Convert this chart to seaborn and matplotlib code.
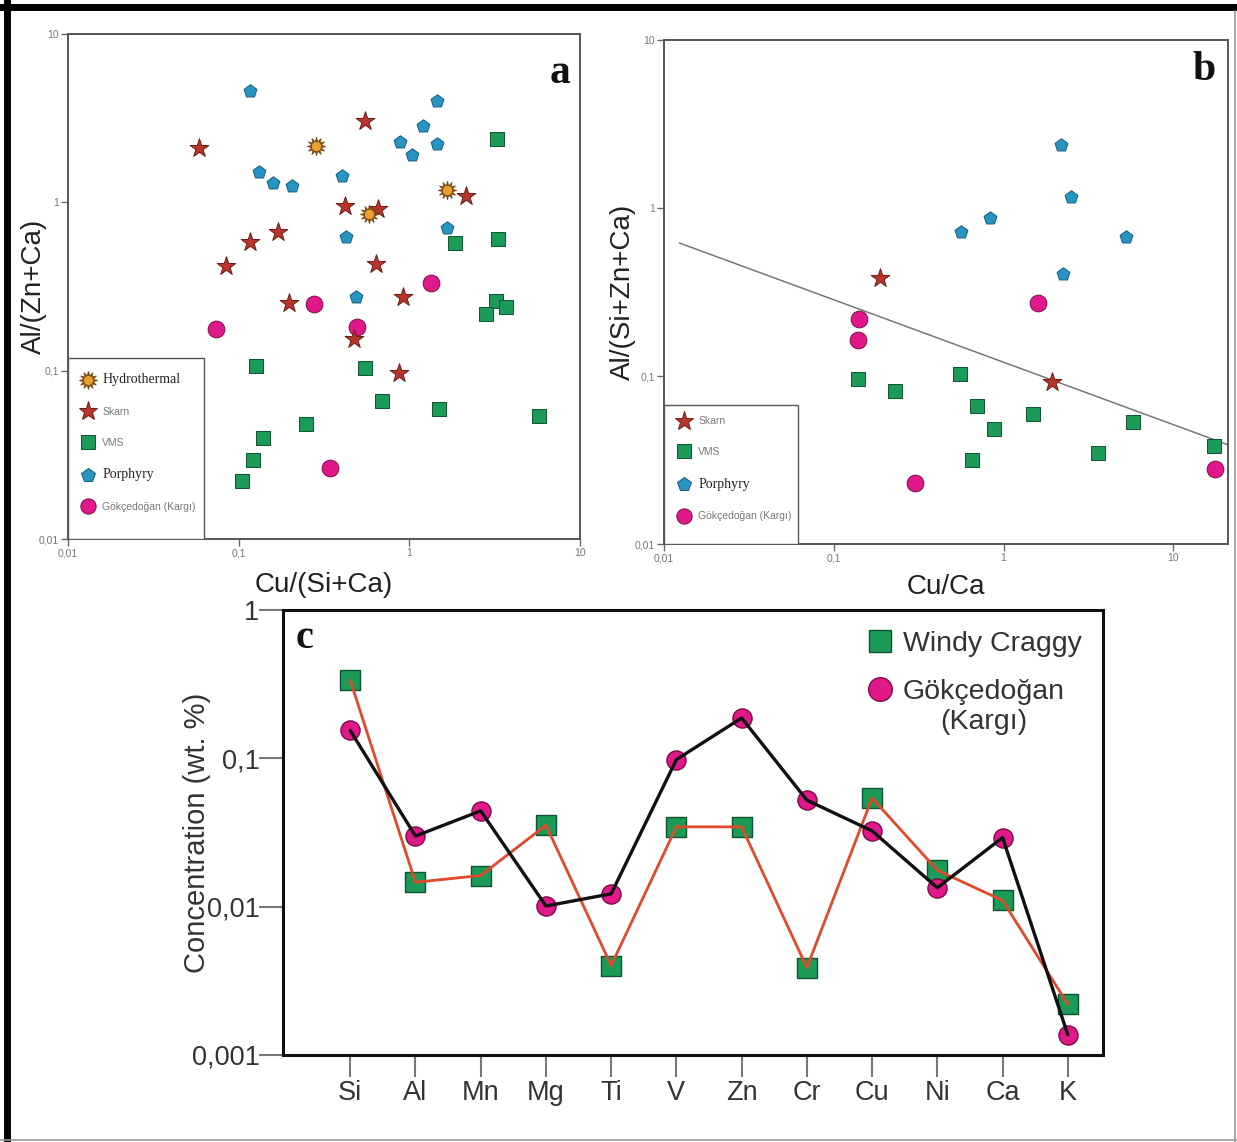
import numpy as np
import pandas as pd
import matplotlib
matplotlib.use("Agg")
import matplotlib.pyplot as plt
import seaborn as sns
from matplotlib.lines import Line2D
from matplotlib.patches import Rectangle

sns.set_theme(style="white")
plt.rcParams["font.family"] = ["Liberation Sans", "DejaVu Sans"]

# -----------------------------
# Panel a : Al/(Zn+Ca) vs Cu/(Si+Ca)
# -----------------------------
a_hydro_x = [0.282, 1.67, 0.580]
a_hydro_y = [2.16, 1.19, 0.855]

a_skarn_x = [0.0586, 0.549, 0.417, 0.651, 2.15, 0.170, 0.117, 0.0838, 0.635, 0.198, 0.914, 0.471, 0.871]
a_skarn_y = [2.10, 3.03, 0.949, 0.910, 1.09, 0.671, 0.582, 0.419, 0.433, 0.254, 0.275, 0.155, 0.0964]

a_vms_x = [3.26, 3.29, 1.84, 3.20, 2.81, 3.66, 0.127, 0.549, 0.692, 1.50, 5.77, 0.248, 0.139, 0.122, 0.104]
a_vms_y = [2.38, 0.608, 0.574, 0.261, 0.218, 0.239, 0.106, 0.104, 0.066, 0.0595, 0.0536, 0.0482, 0.0397, 0.0293, 0.0220]

a_por_x = [0.117, 1.45, 1.21, 0.885, 1.45, 1.04, 0.132, 0.158, 0.206, 0.401, 1.67, 0.427, 0.486]
a_por_y = [4.58, 4.02, 2.86, 2.28, 2.22, 1.91, 1.51, 1.31, 1.25, 1.43, 0.708, 0.624, 0.275]

a_gok_x = [0.0738, 0.275, 0.494, 1.34, 0.345]
a_gok_y = [0.177, 0.248, 0.181, 0.330, 0.0264]

# -----------------------------
# Panel b : Al/(Si+Zn+Ca) vs Cu/Ca
# -----------------------------
b_skarn_x = [0.188, 1.94]
b_skarn_y = [0.383, 0.0925]

b_vms_x = [0.139, 0.228, 0.551, 0.695, 0.873, 0.652, 1.50, 5.78, 3.61, 17.4]
b_vms_y = [0.0964, 0.0818, 0.103, 0.066, 0.0482, 0.0316, 0.0595, 0.0533, 0.035, 0.0381]

b_por_x = [2.18, 2.51, 0.835, 0.560, 5.27, 2.23]
b_por_y = [2.37, 1.16, 0.877, 0.718, 0.671, 0.406]

b_gok_x = [0.141, 0.138, 1.59, 0.299, 17.6]
b_gok_y = [0.220, 0.164, 0.271, 0.0230, 0.0278]

b_line_x = [0.0123, 21.0]
b_line_y = [0.62, 0.039]

# -----------------------------
# Panel c : element concentrations
# -----------------------------
elements = ["Si", "Al", "Mn", "Mg", "Ti", "V", "Zn", "Cr", "Cu", "Ni", "Ca", "K"]
windy = [0.336, 0.0146, 0.0162, 0.0354, 0.00401, 0.0345, 0.0345, 0.00388, 0.0539, 0.0176, 0.0110, 0.0022]
gokce = [0.154, 0.0299, 0.0442, 0.0101, 0.0122, 0.098, 0.187, 0.0522, 0.0324, 0.0134, 0.0292, 0.00137]

log_ticks = [0.01, 0.1, 1, 10]
log_labels = ["0,01", "0,1", "1", "10"]
c_ticks = [0.001, 0.01, 0.1, 1]
c_labels = ["0,001", "0,01", "0,1", "1"]

# colours
RED, RED_E = "#b8352b", "#6e1a14"
GREEN, GREEN_E = "#1c9a58", "#0c5530"
BLUE, BLUE_E = "#2794c2", "#145d80"
MAG, MAG_E = "#e0188a", "#7a0c48"
ORANGE, BROWN = "#eda032", "#7c4a12"
SERIF = ["Liberation Serif", "DejaVu Serif"]

fig = plt.figure(figsize=(12.37, 11.42), dpi=100)
ax_a = fig.add_axes([0.0550, 0.5280, 0.4139, 0.4422])
ax_b = fig.add_axes([0.5368, 0.5236, 0.4559, 0.4413])
ax_c = fig.add_axes([0.2288, 0.0762, 0.6629, 0.3897])


def pts(ax, x, y, marker, face, edge, s, lw=0.7, z=3):
    sns.scatterplot(x=x, y=y, marker=marker, color=face, edgecolor=edge,
                    s=s, linewidth=lw, ax=ax, zorder=z, legend=False)


def style_log(ax, xmax):
    ax.set_xscale("log")
    ax.set_yscale("log")
    ax.set_xlim(0.01, xmax)
    ax.set_ylim(0.01, 10)
    ax.set_xticks(log_ticks)
    ax.set_xticklabels(log_labels)
    ax.set_yticks(log_ticks)
    ax.set_yticklabels(log_labels)
    ax.minorticks_off()
    ax.tick_params(axis="both", which="major", direction="out", length=5, width=1,
                   color="#666666", labelsize=7.5, labelcolor="#777777", pad=1.5,
                   bottom=True, left=True)
    for sp in ax.spines.values():
        sp.set_color("#555555")
        sp.set_linewidth(1.4)


def mk(marker, ms, face, edge, mew=0.7):
    return Line2D([], [], ls="", marker=marker, ms=ms, mfc=face, mec=edge, mew=mew)


def legend_box(ax, handles, labels, serif_idx, box_w, box_h, top):
    # plain rectangular frame touching the lower-left corner of the axes
    ax.add_patch(Rectangle((0, 0), box_w, box_h, transform=ax.transAxes,
                           facecolor="white", edgecolor="#555555", lw=1.0, zorder=6))
    leg = ax.legend(handles, labels, loc="upper left", bbox_to_anchor=(0, top),
                    borderaxespad=0, frameon=False, fontsize=7.5, labelspacing=1.98,
                    handlelength=2.0, handletextpad=0.4, borderpad=0.9)
    leg.set_zorder(7)
    for i, t in enumerate(leg.get_texts()):
        if i in serif_idx:
            t.set_fontfamily(SERIF)
            t.set_fontsize(10)
            t.set_color("#222222")
        else:
            t.set_color("#777777")
    return leg


# -----------------------------
# Panel a
# -----------------------------
pts(ax_a, a_por_x, a_por_y, "p", BLUE, BLUE_E, 95)
pts(ax_a, a_vms_x, a_vms_y, "s", GREEN, GREEN_E, 95)
pts(ax_a, a_gok_x, a_gok_y, "o", MAG, MAG_E, 145)
pts(ax_a, a_skarn_x, a_skarn_y, "*", RED, RED_E, 200, z=4)
pts(ax_a, a_hydro_x, a_hydro_y, (12, 1, 0), BROWN, BROWN, 170, z=5)
pts(ax_a, a_hydro_x, a_hydro_y, "o", ORANGE, BROWN, 55, lw=0.6, z=5.5)

style_log(ax_a, 10)
ax_a.set_xlabel("Cu/(Si+Ca)", fontsize=20, color="#222222", labelpad=10)
ax_a.set_ylabel("Al/(Zn+Ca)", fontsize=20, color="#222222")
ax_a.yaxis.set_label_coords(-0.041, 0.5)
ax_a.text(0.961, 0.923, "a", transform=ax_a.transAxes, ha="center", va="center",
          fontsize=30, fontweight="bold", family=SERIF, color="#111111")

h_hydro = (mk((12, 1, 0), 13, BROWN, BROWN), mk("o", 7, ORANGE, BROWN, 0.5))
h_skarn = mk("*", 14, RED, RED_E)
h_vms = mk("s", 9.5, GREEN, GREEN_E)
h_por = mk("p", 10, BLUE, BLUE_E)
h_gok = mk("o", 11, MAG, MAG_E)
legend_box(ax_a, [h_hydro, h_skarn, h_vms, h_por, h_gok],
           ["Hydrothermal", "Skarn", "VMS", "Porphyry", "Gökçedoğan (Kargı)"], [0, 3],
           0.2656, 0.358, 0.3465)

# -----------------------------
# Panel b
# -----------------------------
sns.lineplot(x=b_line_x, y=b_line_y, color="#777777", lw=1.1, ax=ax_b, zorder=2)
pts(ax_b, b_por_x, b_por_y, "p", BLUE, BLUE_E, 95)
pts(ax_b, b_vms_x, b_vms_y, "s", GREEN, GREEN_E, 95)
pts(ax_b, b_gok_x, b_gok_y, "o", MAG, MAG_E, 145)
pts(ax_b, b_skarn_x, b_skarn_y, "*", RED, RED_E, 200, z=4)

style_log(ax_b, 21)
ax_b.set_xlabel("Cu/Ca", fontsize=20, color="#222222", labelpad=8)
ax_b.set_ylabel("Al/(Si+Zn+Ca)", fontsize=20, color="#222222")
ax_b.yaxis.set_label_coords(-0.05, 0.5)
ax_b.text(0.958, 0.94, "b", transform=ax_b.transAxes, ha="center", va="center",
          fontsize=30, fontweight="bold", family=SERIF, color="#111111")
legend_box(ax_b, [h_skarn, h_vms, h_por, h_gok],
           ["Skarn", "VMS", "Porphyry", "Gökçedoğan (Kargı)"], [2],
           0.2367, 0.276, 0.2718)

# -----------------------------
# Panel c
# -----------------------------
pos = np.arange(len(elements))
df_c = pd.DataFrame({"pos": pos, "Windy Craggy": windy, "Gokce": gokce})

sns.scatterplot(data=df_c, x="pos", y="Windy Craggy", marker="s", color=GREEN,
                edgecolor=GREEN_E, s=190, linewidth=1.0, ax=ax_c, zorder=3, legend=False)
sns.scatterplot(data=df_c, x="pos", y="Gokce", marker="o", color=MAG,
                edgecolor=MAG_E, s=190, linewidth=1.0, ax=ax_c, zorder=3, legend=False)
sns.lineplot(data=df_c, x="pos", y="Windy Craggy", color="#e04a2a", lw=2.0,
             sort=False, ax=ax_c, zorder=4)
sns.lineplot(data=df_c, x="pos", y="Gokce", color="#111111", lw=2.4,
             sort=False, ax=ax_c, zorder=5)

ax_c.set_yscale("log")
ax_c.set_ylim(0.001, 1)
ax_c.set_xlim(-1.03, 11.54)
ax_c.set_yticks(c_ticks)
ax_c.set_yticklabels(c_labels)
ax_c.set_xticks(pos)
ax_c.set_xticklabels(elements)
ax_c.minorticks_off()
ax_c.tick_params(axis="both", direction="out", width=1.5, color="#777777",
                 labelsize=19.5, labelcolor="#333333", bottom=True, left=True)
ax_c.tick_params(axis="y", length=17, pad=0)
ax_c.tick_params(axis="x", length=16, pad=2)
for sp in ax_c.spines.values():
    sp.set_color("#111111")
    sp.set_linewidth(2.2)
ax_c.set_xlabel("")
ax_c.set_ylabel("Concentration (wt. %)", fontsize=21, color="#333333")
ax_c.yaxis.set_label_coords(-0.088, 0.5)
ax_c.text(0.015, 0.935, "c", transform=ax_c.transAxes, ha="left", va="center",
          fontsize=29, fontweight="bold", family=SERIF, color="#111111")

leg_c = ax_c.legend([mk("s", 16, GREEN, GREEN_E, 1.0), mk("o", 17, MAG, MAG_E, 1.0)],
                    ["Windy Craggy", "Gökçedoğan"], loc="upper right",
                    frameon=False, fontsize=20.5, handlelength=1.0, handletextpad=0.3,
                    labelspacing=0.75, borderpad=0.2, borderaxespad=0.55)
for t in leg_c.get_texts():
    t.set_color("#333333")

# second line of the legend label, centred under the first
fig.canvas.draw()
bb = leg_c.get_texts()[1].get_window_extent()
W, H = fig.get_size_inches() * fig.dpi
fig.text((bb.x0 + bb.x1) / 2 / W, ((bb.y0 + bb.y1) / 2 - 30) / H, "(Kargı)",
         ha="center", va="center", fontsize=20.5, color="#333333")

# -----------------------------
# Outer frame
# -----------------------------
fig.add_artist(Line2D([0.0, 1.0], [0.9935, 0.9935], color="black", lw=5,
                      transform=fig.transFigure))
fig.add_artist(Line2D([0.0055, 0.0055], [0.0, 1.0], color="black", lw=5,
                      transform=fig.transFigure))
fig.add_artist(Line2D([0.998, 0.998], [0.0, 0.99], color="#999999", lw=1.2,
                      transform=fig.transFigure))
fig.add_artist(Line2D([0.0, 1.0], [0.002, 0.002], color="#999999", lw=1.2,
                      transform=fig.transFigure))

fig.savefig("out.png", dpi=100)
